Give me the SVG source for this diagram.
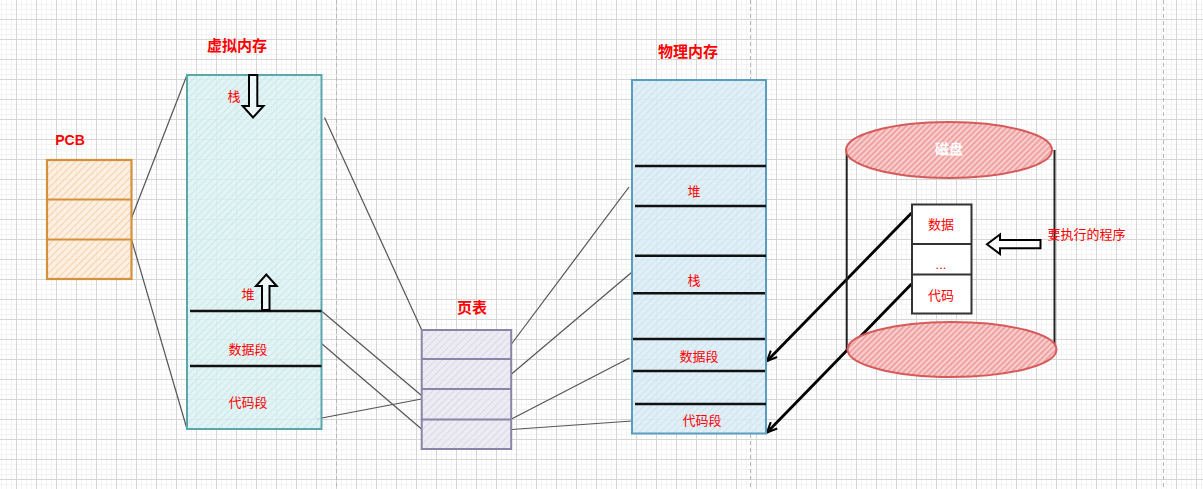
<svg xmlns="http://www.w3.org/2000/svg" width="1203" height="489" viewBox="0 0 1203 489">
<defs>
<pattern id="grid" width="20" height="20" patternUnits="userSpaceOnUse" x="16" y="19">
<path d="M5.5,0V20M10.5,0V20M15.5,0V20M0,5.5H20M0,10.5H20M0,15.5H20" stroke="#f3f3f3" stroke-width="1" fill="none"/>
<path d="M0.5,0V20M0,0.5H20" stroke="#d6d6d6" stroke-width="1" fill="none"/>
</pattern>
<pattern id="hOrange" width="5" height="5" patternUnits="userSpaceOnUse" patternTransform="rotate(-45)">
<rect width="5" height="5" fill="#fdeddc" fill-opacity="0.85"/>
<path d="M0,2.5H5" stroke="#f6d2aa" stroke-width="1"/>
</pattern>
<pattern id="hTeal" width="5" height="5" patternUnits="userSpaceOnUse" patternTransform="rotate(-45)">
<rect width="5" height="5" fill="#dcf1f3" fill-opacity="0.8"/>
<path d="M0,2.5H5" stroke="#c9e8ec" stroke-width="1"/>
</pattern>
<pattern id="hBlue" width="5" height="5" patternUnits="userSpaceOnUse" patternTransform="rotate(-45)">
<rect width="5" height="5" fill="#dcedf6" fill-opacity="0.85"/>
<path d="M0,2.5H5" stroke="#cbe4f1" stroke-width="1"/>
</pattern>
<pattern id="hPurple" width="5" height="5" patternUnits="userSpaceOnUse" patternTransform="rotate(-45)">
<rect width="5" height="5" fill="#ebe9f2" fill-opacity="0.9"/>
<path d="M0,2.5H5" stroke="#dcd8e8" stroke-width="1"/>
</pattern>
<pattern id="hRed" width="4" height="4" patternUnits="userSpaceOnUse" patternTransform="rotate(-45)">
<rect width="4" height="4" fill="#f8cfcf"/>
<path d="M0,2H4" stroke="#ec8585" stroke-width="1.2"/>
</pattern>
<marker id="open" viewBox="0 0 12 12" refX="11" refY="6" markerWidth="12" markerHeight="12" markerUnits="userSpaceOnUse" orient="auto">
<path d="M1,1.5 L11,6 L1,10.5" fill="none" stroke="#000" stroke-width="2"/>
</marker>
</defs>
<style>
.lbl{font-family:"Liberation Sans","Noto Sans CJK SC",sans-serif;font-size:13px;fill:#ff0000;text-anchor:middle;dominant-baseline:central}
.ttl{font-family:"Liberation Sans","Noto Sans CJK SC",sans-serif;font-size:15px;font-weight:bold;fill:#ff0000;text-anchor:middle;dominant-baseline:central}
.seg{stroke:#111;stroke-width:2.5;fill:none}
.conn{stroke:#555;stroke-width:1.2;fill:none}
.bold{stroke:#000;stroke-width:2.8;fill:none}
.blk{stroke:#000;stroke-width:2;fill:#fff;fill-opacity:0.5;stroke-linejoin:miter}
.page{stroke:#b8b8b8;stroke-width:1;stroke-dasharray:4 3}
</style>
<rect width="1203" height="489" fill="#fff"/>
<rect width="1203" height="489" fill="url(#grid)"/>
<path class="page" d="M336.5,0V489M750.5,0V489M1163.5,0V489"/>

<g id="connectors">
<path class="conn" d="M131.5,218 L187,75"/>
<path class="conn" d="M131.5,239.5 L187,429"/>
<path class="conn" d="M324.5,117.5 L421.5,329.5"/>
<path class="conn" d="M321.5,311 L421.5,395.5"/>
<path class="conn" d="M321.5,343.5 L421.5,429"/>
<path class="conn" d="M316.5,419 L421.5,399"/>
<path class="conn" d="M511.5,344 L629,187"/>
<path class="conn" d="M511.5,374 L631.5,272.5"/>
<path class="conn" d="M511.5,419 L629.5,358"/>
<path class="conn" d="M511.5,429.5 L632,421"/>
<path class="bold" d="M911.5,213 L767,361" marker-end="url(#open)"/>
<path class="bold" d="M911.5,284 L767,432.5" marker-end="url(#open)"/>
</g>

<g id="pcb">
<text class="ttl" x="70" y="140" style="font-size:14px">PCB</text>
<rect x="47" y="160" width="84.5" height="119" fill="url(#hOrange)" stroke="#d3913e" stroke-width="2.2"/>
<path d="M47,199.5H131.5M47,239.5H131.5" stroke="#d3913e" stroke-width="2.2"/>
</g>

<g id="virtual-memory">
<text class="ttl" x="237" y="45">虚拟内存</text>
<rect x="187" y="75" width="134.5" height="354" fill="url(#hTeal)" stroke="#5aa7ac" stroke-width="2"/>
<path class="seg" d="M190,311H321.5M190,366H321.5"/>
<path class="blk" d="M249,75 L257.3,75 L257.3,106 L263.5,106 L253,117.5 L242.7,106 L249,106 Z"/>
<path class="blk" d="M262,310 L262,286 L256,286 L266.3,274.5 L276.7,286 L269.5,286 L269.5,310 Z"/>
<text class="lbl" x="234" y="96">栈</text>
<text class="lbl" x="248" y="294">堆</text>
<text class="lbl" x="248" y="349">数据段</text>
<text class="lbl" x="248" y="402">代码段</text>
</g>

<g id="page-table">
<text class="ttl" x="472" y="307">页表</text>
<rect x="421.7" y="330" width="89.5" height="119" fill="url(#hPurple)" stroke="#8a84a6" stroke-width="2"/>
<path d="M421.7,359H511.2M421.7,389H511.2M421.7,419.5H511.2" stroke="#8a84a6" stroke-width="2.2"/>
</g>

<g id="physical-memory">
<text class="ttl" x="688" y="51">物理内存</text>
<rect x="632" y="80" width="134" height="353.5" fill="url(#hBlue)" stroke="#5b9dbf" stroke-width="2"/>
<path class="seg" d="M635,166H766M635,206H766M635,255.7H766M633,293.3H765M633,339H765M633,371H765M635,404H766"/>
<text class="lbl" x="694" y="191">堆</text>
<text class="lbl" x="694" y="280">栈</text>
<text class="lbl" x="699" y="356">数据段</text>
<text class="lbl" x="702" y="420">代码段</text>
</g>

<g id="disk">
<path d="M846.7,150V350M1054.5,150V350" stroke="#222" stroke-width="2"/>
<ellipse cx="952" cy="349.5" rx="104.5" ry="27.5" fill="url(#hRed)" stroke="#d65a5a" stroke-width="2"/>
<ellipse cx="949" cy="150" rx="103" ry="28" fill="url(#hRed)" stroke="#d65a5a" stroke-width="2"/>
<text class="ttl" x="949" y="149" style="fill:#fff;font-size:14px">磁盘</text>
<rect x="912" y="204.5" width="59.5" height="109" fill="#fff" stroke="#333" stroke-width="2"/>
<path d="M912,244H971.5M912,274.5H971.5" stroke="#333" stroke-width="2"/>
<text class="lbl" x="941" y="224">数据</text>
<text class="lbl" x="941" y="264">...</text>
<text class="lbl" x="941" y="295">代码</text>
</g>

<g id="program">
<path class="blk" d="M1040.5,240 L1000,240 L1000,234.5 L987,244.2 L1000,254 L1000,248.3 L1040.5,248.3 Z"/>
<text class="lbl" x="1086.5" y="234">要执行的程序</text>
</g>
</svg>
